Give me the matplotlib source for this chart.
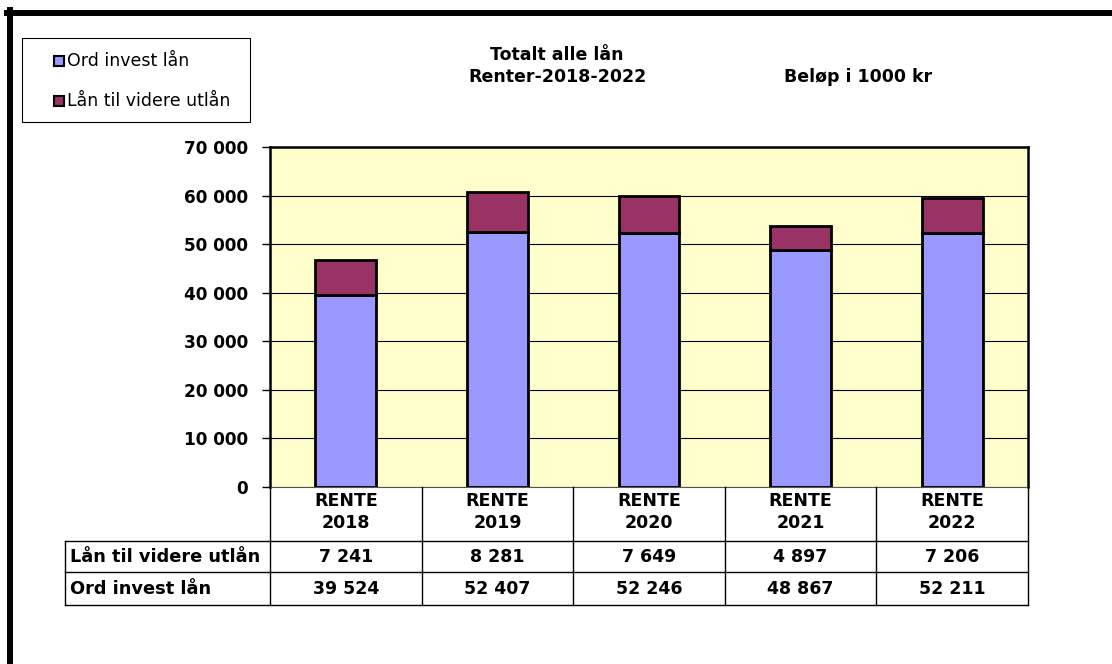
import numpy as np
import matplotlib
matplotlib.use('Agg')
import matplotlib.pyplot as plt
from matplotlib.transforms import blended_transform_factory
from matplotlib.lines import Line2D
from matplotlib.patches import Rectangle

categories = ['RENTE\n2018', 'RENTE\n2019', 'RENTE\n2020', 'RENTE\n2021', 'RENTE\n2022']
ord_invest = [39524, 52407, 52246, 48867, 52211]
videre_utlan = [7241, 8281, 7649, 4897, 7206]
series_names = ['Ord invest lån', 'Lån til videre utlån']
series_colors = ['#9999FF', '#993366']
yticks = np.arange(0, 70001, 10000)


def fmt(v):
    return f'{v:,}'.replace(',', ' ')


plt.rcParams['font.family'] = ['DejaVu Sans']
FS = 12.5

W, H = 1112, 664
fig = plt.figure(figsize=(W / 100, H / 100), dpi=100)
fx = lambda px: px / W
fy = lambda py: 1 - py / H

# plot area
ax = fig.add_axes([fx(270), fy(487), fx(1028) - fx(270), fy(147) - fy(487)])
ax.set_facecolor('#FFFFCC')
x = np.arange(len(categories))
ax.bar(x, ord_invest, width=0.4, color=series_colors[0], edgecolor='black', lw=2.0, zorder=3)
ax.bar(x, videre_utlan, bottom=ord_invest, width=0.4, color=series_colors[1],
       edgecolor='black', lw=2.0, zorder=3)
ax.set_xlim(-0.5, len(categories) - 0.5)
ax.set_ylim(0, 70000)
ax.set_yticks(yticks)
ax.set_yticklabels([fmt(v) for v in yticks], fontsize=12.2, fontweight='bold')
ax.yaxis.grid(True, color='black', lw=0.8, zorder=1)
ax.set_xticks([])
for name, s in ax.spines.items():
    s.set_linewidth(1.8)
ax.spines['bottom'].set_linewidth(0.8)
ax.spines['bottom'].set_color('#555555')
ax.tick_params(axis='y', length=6, width=1, pad=10)

# data table under the axis
tr = blended_transform_factory(ax.transData, fig.transFigure)
top, r1, r2, bot = 487, 541, 572, 605
for b in np.arange(len(categories) + 1) - 0.5:
    fig.add_artist(Line2D([b, b], [fy(top), fy(bot)], transform=tr, color='black', lw=1.0))
for yy in (r1, r2, bot):
    fig.add_artist(Line2D([fx(65), fx(1028)], [fy(yy), fy(yy)], color='black', lw=1.0))
fig.add_artist(Line2D([fx(65), fx(65)], [fy(r1), fy(bot)], color='black', lw=1.0))

for i, cat in enumerate(categories):
    fig.text(i, fy(512), cat, transform=tr, ha='center', va='center',
             fontsize=FS, fontweight='bold', linespacing=1.35)
    fig.text(i, fy((r1 + r2) / 2), fmt(videre_utlan[i]), transform=tr, ha='center',
             va='center', fontsize=FS, fontweight='bold')
    fig.text(i, fy((r2 + bot) / 2), fmt(ord_invest[i]), transform=tr, ha='center',
             va='center', fontsize=FS, fontweight='bold')
fig.text(fx(70), fy((r1 + r2) / 2), series_names[1], ha='left', va='center',
         fontsize=12.8, fontweight='bold')
fig.text(fx(70), fy((r2 + bot) / 2), series_names[0], ha='left', va='center',
         fontsize=12.8, fontweight='bold')

# titles
fig.text(fx(557), fy(55), 'Totalt alle lån', ha='center', va='center', fontsize=FS, fontweight='bold')
fig.text(fx(557), fy(77), 'Renter-2018-2022', ha='center', va='center', fontsize=FS, fontweight='bold')
fig.text(fx(858), fy(77), 'Beløp i 1000 kr', ha='center', va='center', fontsize=FS, fontweight='bold')

# legend box
fig.add_artist(Rectangle((fx(22), fy(122)), fx(250) - fx(22), fy(38) - fy(122),
                         transform=fig.transFigure, facecolor='white', edgecolor='black', lw=0.8))
for k, (name, col) in enumerate(zip(series_names, series_colors)):
    yc = 61 + 40 * k
    fig.add_artist(Rectangle((fx(54), fy(yc + 5)), fx(10), fy(0) - fy(10),
                             transform=fig.transFigure, facecolor=col, edgecolor='black', lw=1.5))
    fig.text(fx(67), fy(yc), name, ha='left', va='center', fontsize=FS)

# outer frame
fig.add_artist(Line2D([fx(7), 1], [fy(13), fy(13)], color='black', lw=4.3))
fig.add_artist(Line2D([fx(10), fx(10)], [fy(10), 0], color='black', lw=4.3))

fig.savefig('out.png', dpi=100)
